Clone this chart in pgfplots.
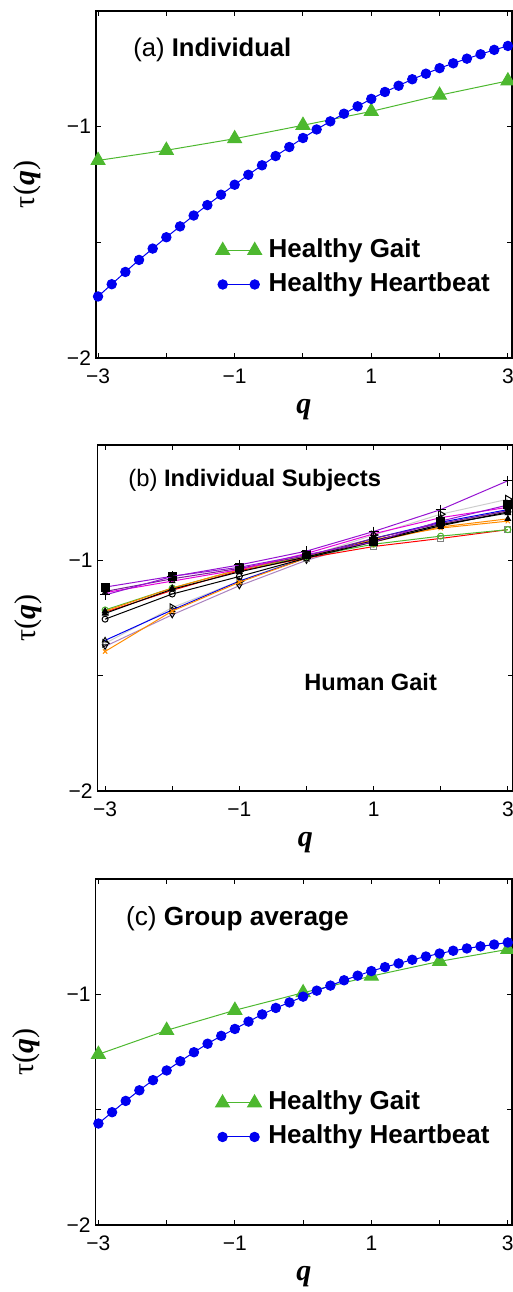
\documentclass[border=0pt]{standalone}
\usepackage{fontspec}
\setmainfont{Liberation Sans}
\newfontfamily\timesf{Liberation Serif}
\usepackage{pgfplots}
\pgfplotsset{compat=1.18}

\definecolor{gaitgreen}{RGB}{77,184,47}
\definecolor{hbblue}{RGB}{0,0,240}
\definecolor{violetA}{RGB}{150,20,210}
\definecolor{violetB}{RGB}{120,30,150}
\definecolor{magentaA}{RGB}{230,0,220}
\definecolor{orangeA}{RGB}{255,140,0}
\definecolor{lavA}{RGB}{170,130,190}
\definecolor{greyA}{RGB}{205,205,205}

\pgfplotsset{
  panel/.style={
    scale only axis, clip mode=individual,
    ymin=-2, ymax=-0.5,
    ytick={-2,-1.5,-1}, yticklabels={−2,,−1},
    xtick={-3,-2,...,3}, xticklabels={−3,,−1,,1,,3},
    tick align=inside, major tick length=2.5pt,
    tick style={black, line width=0.5pt},
    axis line style={line width=0.6pt},
    ticklabel style={font=\fontsize{10.5}{11}\selectfont},
    yticklabel style={xshift=1pt},
    xticklabel style={yshift=-2pt},
    xlabel={{\timesf\bfseries\itshape q}},
    ylabel={{\timesf τ(\textbf{\textit{q}})}},
    every axis x label/.style={at={(axis description cs:0.5,-0.148)}, anchor=center, font=\fontsize{15}{16}\selectfont},
    every axis y label/.style={at={(axis description cs:-0.166,0.5)}, rotate=90, anchor=center, font=\fontsize{15}{16}\selectfont},
    legend cell align=left,
    legend style={draw=none, fill=none, inner sep=0pt,
      at={(axis description cs:0.287,0.36)}, anchor=north west,
      font=\fontsize{13}{14}\selectfont\bfseries,
      nodes={inner sep=2.5pt, text height=9.5pt, text depth=2.5pt},
      /tikz/every odd column/.style={column sep=1pt}},
    legend image code/.code={\draw plot coordinates {(0pt,0pt) (16pt,0pt)};},
  },
  gait/.style={color=gaitgreen, line width=0.5pt, mark=triangle*, mark size=4pt, mark options={solid, fill=gaitgreen}},
  heart/.style={color=hbblue, line width=0.5pt, mark=*, mark size=2.35pt, mark options={solid, fill=hbblue}},
  subj/.style={line width=0.5pt, mark size=1.5pt},
}

\begin{document}
\begin{tikzpicture}
\useasboundingbox (0pt,0pt) rectangle (256.5pt,-646pt);

% (a)
\begin{axis}[panel, at={(48pt,-179pt)}, anchor=south west,
  width=208pt, height=173.5pt, xmin=-3.03, xmax=3.06]
\addplot[gait] coordinates {(-3,-1.146) (-2,-1.102) (-1,-1.052) (0,-0.994) (1,-0.934) (2,-0.864) (3,-0.802)};
\addlegendentry{Healthy Gait}
\addplot[heart] coordinates {(-3,-1.734) (-2.8,-1.681) (-2.6,-1.628) (-2.4,-1.576) (-2.2,-1.527) (-2,-1.478) (-1.8,-1.431) (-1.6,-1.384) (-1.4,-1.339) (-1.2,-1.294) (-1,-1.251) (-0.8,-1.208) (-0.6,-1.167) (-0.4,-1.127) (-0.2,-1.088) (0,-1.049) (0.2,-1.012) (0.4,-0.977) (0.6,-0.944) (0.8,-0.912) (1,-0.880) (1.2,-0.850) (1.4,-0.823) (1.6,-0.795) (1.8,-0.771) (2,-0.747) (2.2,-0.726) (2.4,-0.706) (2.6,-0.687) (2.8,-0.668) (3,-0.651)};
\addlegendentry{Healthy Heartbeat}
\node[anchor=west, inner sep=0pt, font=\fontsize{12.8}{14}\selectfont] at (axis description cs:0.089,0.888) {(a) \textbf{Individual}};
\end{axis}

% (b)
\begin{axis}[panel, at={(48.85pt,-395.5pt)}, anchor=south west,
  width=207.6pt, height=173pt, xmin=-3.11, xmax=3.075]
\addplot[subj, greyA, mark=triangle, mark options={black, rotate=-90, mark size=2.2pt}] coordinates {(-3,-1.36) (-2,-1.205) (-1,-1.09) (0,-0.985) (1,-0.89) (2,-0.80) (3,-0.735)};
\addplot[subj, lavA, mark=triangle, mark options={black, rotate=180}] coordinates {(-3,-1.373) (-2,-1.236) (-1,-1.11) (0,-1.0) (1,-0.915) (2,-0.845) (3,-0.785)};
\addplot[subj, hbblue, mark=triangle, mark options={black}] coordinates {(-3,-1.347) (-2,-1.215) (-1,-1.09) (0,-0.99) (1,-0.905) (2,-0.835) (3,-0.78)};
\addplot[subj, orangeA, mark=x, mark options={orangeA}] coordinates {(-3,-1.395) (-2,-1.22) (-1,-1.095) (0,-0.99) (1,-0.91) (2,-0.86) (3,-0.83)};
\addplot[subj, red, mark=square, mark options={gray}] coordinates {(-3,-1.225) (-2,-1.13) (-1,-1.045) (0,-0.99) (1,-0.94) (2,-0.905) (3,-0.867)};
\addplot[subj, gaitgreen, mark=o, mark options={gaitgreen}] coordinates {(-3,-1.215) (-2,-1.12) (-1,-1.04) (0,-0.985) (1,-0.93) (2,-0.895) (3,-0.867)};
\addplot[subj, orangeA, mark=triangle*, mark options={black}] coordinates {(-3,-1.22) (-2,-1.12) (-1,-1.04) (0,-0.98) (1,-0.92) (2,-0.855) (3,-0.82)};
\addplot[subj, black, mark=o] coordinates {(-3,-1.255) (-2,-1.146) (-1,-1.07) (0,-0.99) (1,-0.92) (2,-0.85) (3,-0.79)};
\addplot[subj, black, mark=triangle*] coordinates {(-3,-1.23) (-2,-1.125) (-1,-1.05) (0,-0.985) (1,-0.915) (2,-0.845) (3,-0.795)};
\addplot[subj, violetB, mark=diamond*, mark options={black}] coordinates {(-3,-1.135) (-2,-1.08) (-1,-1.035) (0,-0.98) (1,-0.905) (2,-0.84) (3,-0.785)};
\addplot[subj, magentaA, mark=triangle, mark options={black}] coordinates {(-3,-1.14) (-2,-1.09) (-1,-1.04) (0,-0.97) (1,-0.885) (2,-0.815) (3,-0.77)};
\addplot[subj, violetA, mark=square*, mark options={black, mark size=2pt}] coordinates {(-3,-1.116) (-2,-1.069) (-1,-1.03) (0,-0.975) (1,-0.92) (2,-0.83) (3,-0.76)};
\addplot[subj, violetA, mark=+, mark options={black, mark size=2.5pt}] coordinates {(-3,-1.15) (-2,-1.07) (-1,-1.02) (0,-0.96) (1,-0.875) (2,-0.78) (3,-0.655)};
\node[anchor=west, inner sep=0pt, font=\fontsize{11.9}{14}\selectfont] at (axis description cs:0.073,0.897) {(b) \textbf{Individual Subjects}};
\node[anchor=west, inner sep=0pt, font=\fontsize{11.8}{13}\selectfont\bfseries] at (axis description cs:0.497,0.316) {Human Gait};
\end{axis}

% (c)
\begin{axis}[panel, at={(47.85pt,-612.5pt)}, anchor=south west,
  width=208.2pt, height=173pt, xmin=-3.04, xmax=3.063,
  legend style={at={(axis description cs:0.287,0.403)}}]
\addplot[gait] coordinates {(-3,-1.260) (-2,-1.156) (-1,-1.069) (0,-0.993) (1,-0.921) (2,-0.857) (3,-0.805)};
\addlegendentry{Healthy Gait}
\addplot[heart] coordinates {(-3,-1.560) (-2.8,-1.511) (-2.6,-1.462) (-2.4,-1.416) (-2.2,-1.372) (-2,-1.330) (-1.8,-1.290) (-1.6,-1.251) (-1.4,-1.214) (-1.2,-1.180) (-1,-1.150) (-0.8,-1.118) (-0.6,-1.087) (-0.4,-1.059) (-0.2,-1.035) (0,-1.010) (0.2,-0.984) (0.4,-0.962) (0.6,-0.939) (0.8,-0.919) (1,-0.899) (1.2,-0.882) (1.4,-0.866) (1.6,-0.850) (1.8,-0.836) (2,-0.823) (2.2,-0.811) (2.4,-0.801) (2.6,-0.792) (2.8,-0.784) (3,-0.775)};
\addlegendentry{Healthy Heartbeat}
\node[anchor=west, inner sep=0pt, font=\fontsize{13.1}{14}\selectfont] at (axis description cs:0.072,0.884) {(c) \textbf{Group average}};
\end{axis}
\end{tikzpicture}
\end{document}
